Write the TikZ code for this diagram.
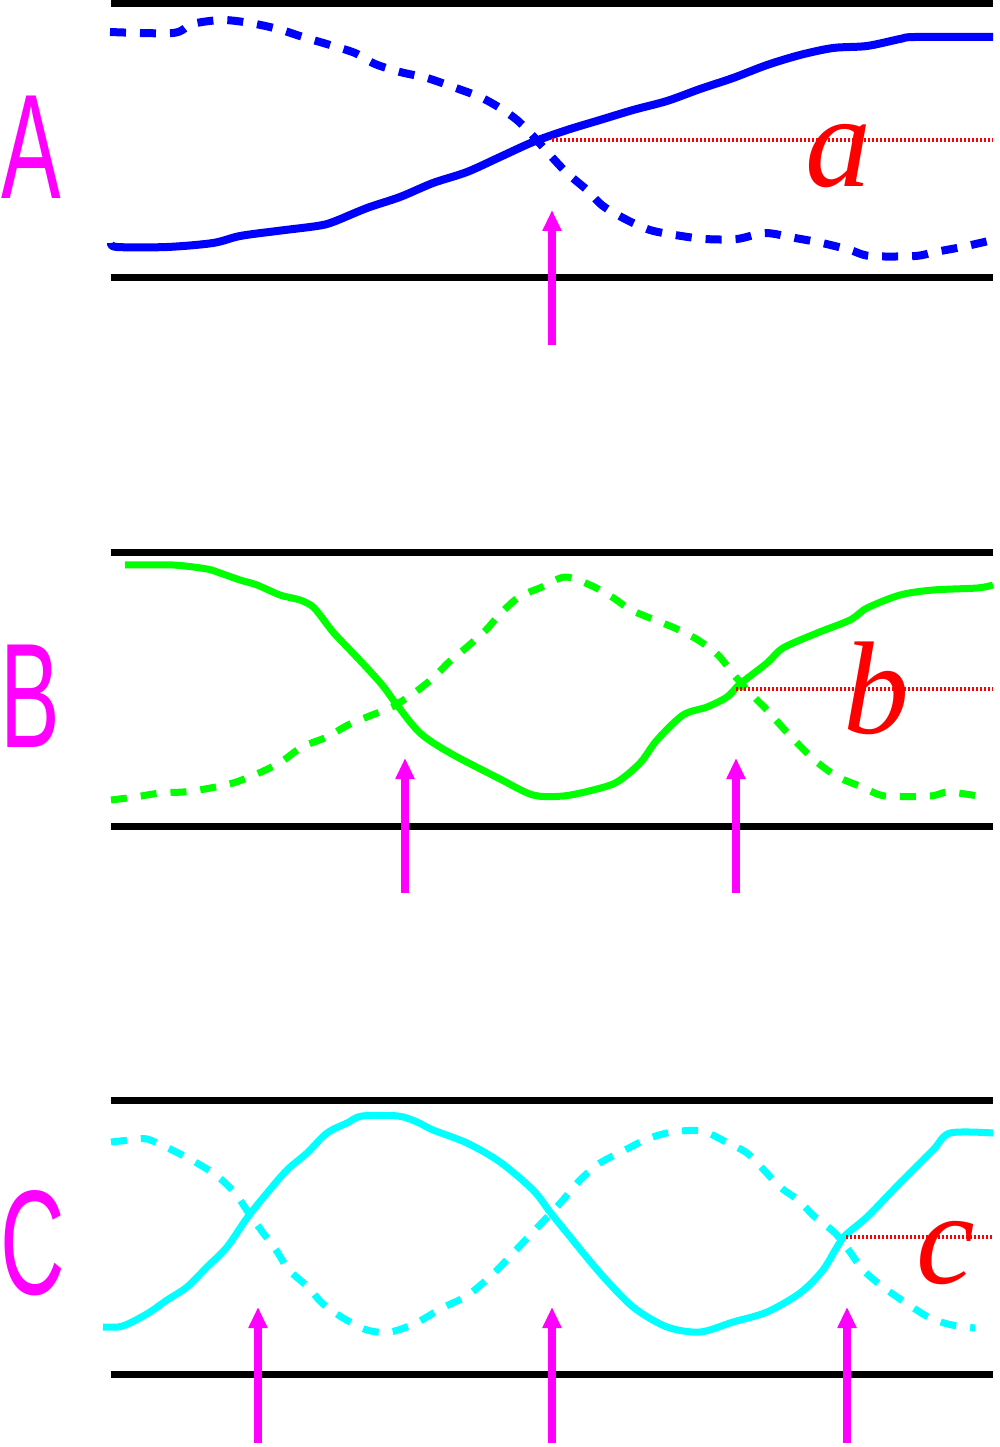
\documentclass[tikz,border=0pt]{standalone}
\usepackage{fontspec}
\setmainfont{Liberation Sans}
\newfontfamily\labfont{Liberation Serif}
\usetikzlibrary{arrows.meta}
\definecolor{cblue}{RGB}{0,0,255}
\definecolor{cgreen}{RGB}{0,255,0}
\definecolor{ccyan}{RGB}{0,255,255}
\definecolor{cmag}{RGB}{255,0,255}
\definecolor{cred}{RGB}{255,0,0}
\begin{document}
\begin{tikzpicture}[x=1pt,y=-1pt,
  rail/.style={line width=7pt,black},
  curveA/.style={line width=8pt,cblue,line join=round},
  curveB/.style={line width=7pt,cgreen,line join=round},
  curveC/.style={line width=7pt,ccyan,line join=round},
  dashpat/.style={dash pattern=on 16pt off 14pt},
  reddot/.style={cred,line width=3.5pt,dash pattern=on 2pt off 2pt},
  uparrow/.style={line width=7.5pt,cmag,-{Triangle[width=18pt,length=21pt]}},
  panelletter/.style={anchor=base west,inner sep=0pt,text=cmag,xscale=0.6,
    font=\fontsize{149}{150}\selectfont},
  redletter/.style={anchor=base west,inner sep=0pt,text=cred,
    font=\labfont\itshape\fontsize{132}{132}\selectfont}]
\useasboundingbox (0,0) rectangle (999,1447);

% ---------- Panel A ----------
\node[panelletter] (LA) at (1,199) {A};
\coordinate (A1) at (111,3.5);   \coordinate (A2) at (993,3.5);
\coordinate (A3) at (111,277.5); \coordinate (A4) at (993,277.5);
\draw[rail] (A1) -- (A2);
\draw[rail] (A3) -- (A4);
\draw[curveA] plot[smooth,tension=0.5] coordinates {(111,243) (117,247) (167,247) (213,243) (240,236) (277,231) (317,226) (333,222) (367,208) (400,197) (433,183) (467,172) (500,157) (533,142) (567,130) (600,120) (633,110) (667,101) (700,89) (733,78) (767,65) (800,55) (833,48) (867,46) (900,39) (915,37) (993,37)};
\draw[curveA,dashpat] plot[smooth,tension=0.5] coordinates {(110,32) (173,33) (192,24) (222,20) (250,23) (278,29) (303,37) (330,45) (355,53) (375,64) (400,72) (427,78) (453,87) (480,97) (500,108) (517,120) (533,136) (550,155) (567,173) (587,190) (603,206) (627,220) (650,230) (675,235) (705,239) (737,239) (765,233) (795,238) (822,243) (850,250) (870,256) (915,256) (935,252) (962,247) (993,240)};
\coordinate (XA) at (552,140); \coordinate (XAe) at (993,140);
\draw[reddot] (XA) -- (XAe);
\node[redletter] (la) at (805,187) {a};
\coordinate (PA0) at (552,345); \coordinate (PA1) at (552,210);
\draw[uparrow] (PA0) -- (PA1);

% ---------- Panel B ----------
\node[panelletter] (LB) at (0,747) {B};
\coordinate (B1) at (111,552.5); \coordinate (B2) at (993,552.5);
\coordinate (B3) at (111,826);   \coordinate (B4) at (993,826);
\draw[rail] (B1) -- (B2);
\draw[rail] (B3) -- (B4);
\draw[curveB] plot[smooth,tension=0.5] coordinates {(125,565) (173,565) (207,569) (220,573) (240,580) (257,585) (280,595) (300,600) (312,606) (320,615) (333,632) (350,650) (367,668) (383,686) (397,705) (420,733) (450,753) (500,779) (533,795) (563,796) (593,790) (617,782) (640,763) (657,740) (683,715) (707,707) (727,697) (740,684) (767,663) (783,648) (817,633) (850,620) (867,608) (900,595) (933,590) (977,588) (993,585)};
\draw[curveB,dashpat] plot[smooth,tension=0.5] coordinates {(111,800) (135,797) (160,793) (183,792) (205,789) (233,783) (259,773) (281,762) (302,747) (327,737) (348,725) (372,715) (392,707) (414,693) (433,678) (449,662) (467,647) (486,630) (500,614) (519,597) (542,587) (565,577) (590,585) (612,597) (631,610) (655,620) (677,629) (698,640) (718,655) (734,675) (750,693) (767,710) (783,728) (801,747) (818,763) (838,777) (862,787) (885,796) (930,796) (948,792) (978,796)};
\coordinate (XB) at (736,689); \coordinate (XBe) at (993,689);
\draw[reddot] (XB) -- (XBe);
\node[redletter] (lb) at (843,733) {b};
\coordinate (PB0) at (405,893); \coordinate (PB1) at (405,758);
\coordinate (PB2) at (736,893); \coordinate (PB3) at (736,758);
\draw[uparrow] (PB0) -- (PB1);
\draw[uparrow] (PB2) -- (PB3);

% ---------- Panel C ----------
\node[panelletter] (LC) at (0,1294) {C};
\coordinate (C1) at (111,1100); \coordinate (C2) at (993,1100);
\coordinate (C3) at (111,1374); \coordinate (C4) at (993,1374);
\draw[rail] (C1) -- (C2);
\draw[rail] (C3) -- (C4);
\draw[curveC] plot[smooth,tension=0.5] coordinates {(103,1327) (118,1327) (130,1323) (150,1312) (167,1300) (187,1287) (207,1267) (227,1247) (247,1218) (267,1193) (287,1170) (307,1153) (327,1133) (347,1123) (362,1116) (398,1116) (417,1122) (433,1130) (467,1143) (500,1162) (533,1190) (550,1212) (567,1233) (600,1273) (633,1307) (667,1327) (700,1332) (733,1322) (767,1312) (800,1293) (823,1270) (843,1238) (867,1217) (900,1183) (933,1150) (950,1133) (993,1133)};
\draw[curveC,dashpat] plot[smooth,tension=0.5] coordinates {(111,1142) (130,1140) (147,1139) (172,1150) (195,1162) (216,1175) (235,1193) (248,1212) (261,1230) (276,1250) (289,1270) (308,1287) (322,1303) (343,1318) (367,1330) (390,1332) (416,1323) (442,1308) (465,1297) (483,1283) (500,1267) (516,1250) (535,1230) (552,1212) (563,1200) (580,1180) (600,1163) (625,1150) (647,1139) (672,1132) (702,1131) (726,1142) (747,1153) (762,1168) (780,1187) (798,1200) (815,1217) (835,1233) (850,1252) (863,1270) (883,1287) (906,1303) (930,1318) (952,1325) (975,1328)};
\coordinate (XC) at (846,1237); \coordinate (XCe) at (993,1237);
\draw[reddot] (XC) -- (XCe);
\node[redletter] (lc) at (916,1283) {c};
\coordinate (PC0) at (258,1443); \coordinate (PC1) at (258,1307);
\coordinate (PC2) at (552,1443); \coordinate (PC3) at (552,1307);
\coordinate (PC4) at (847,1443); \coordinate (PC5) at (847,1307);
\draw[uparrow] (PC0) -- (PC1);
\draw[uparrow] (PC2) -- (PC3);
\draw[uparrow] (PC4) -- (PC5);
\end{tikzpicture}
\end{document}
